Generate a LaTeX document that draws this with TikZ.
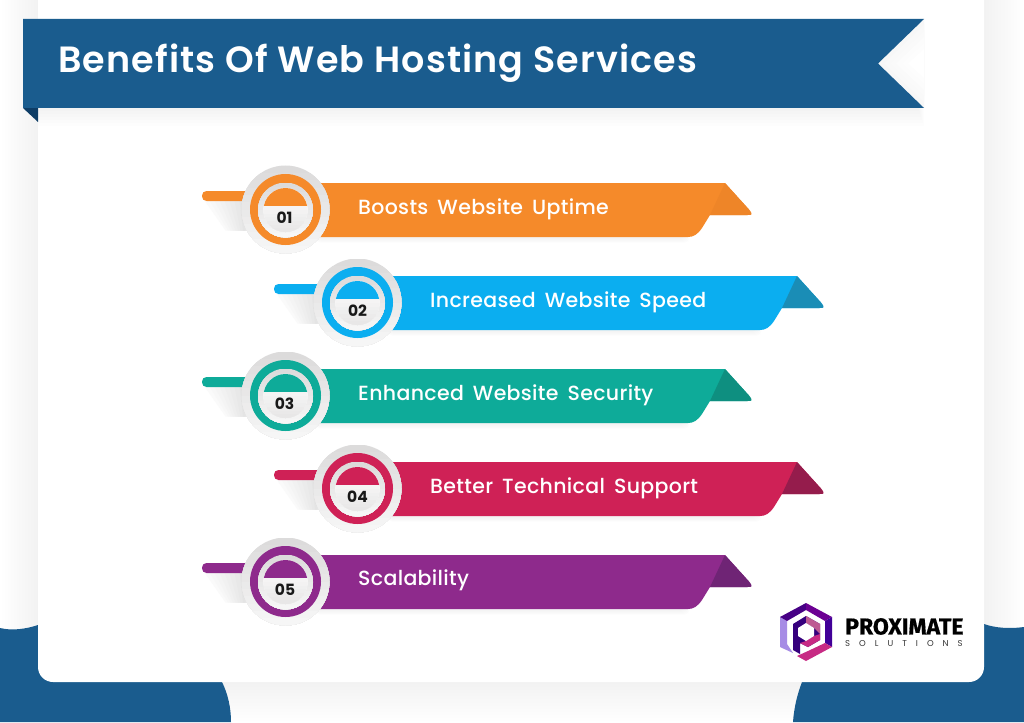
\documentclass[tikz,border=0pt]{standalone}
\usepackage{fontspec}
\setmainfont{Poppins}
\newfontfamily\titlefont[LetterSpace=3.1]{Poppins SemiBold}
\newfontfamily\labelfont[LetterSpace=1.6,WordSpace=1.6]{Poppins Medium}
\newfontfamily\numfont{Poppins}
\newfontfamily\logofont[FakeBold=0.6]{Fira Sans}
\newfontfamily\logosub[LetterSpace=106]{Poppins}
\definecolor{bannerblue}{HTML}{1A5C8E}
\definecolor{bannerdark}{HTML}{0E3D66}
\definecolor{pagegray}{HTML}{F2F2F2}
\definecolor{rimgray}{HTML}{DCDBDB}
\definecolor{rimlight}{HTML}{F6F6F6}
\definecolor{discbottom}{HTML}{E8E7E7}
\definecolor{c1}{HTML}{F58A2A}\definecolor{f1}{HTML}{EE8528}
\definecolor{c2}{HTML}{0BAEF0}\definecolor{f2}{HTML}{1A8DB6}
\definecolor{c3}{HTML}{0EAB99}\definecolor{f3}{HTML}{0E8F80}
\definecolor{c4}{HTML}{CF2156}\definecolor{f4}{HTML}{951C4C}
\definecolor{c5}{HTML}{8E2A8C}\definecolor{f5}{HTML}{6F2475}
\tikzset{
  barlabel/.style={anchor=west,text=white,font=\labelfont\fontsize{20.5}{24}\selectfont,inner sep=0pt},
  numlabel/.style={text=black!90,font=\numfont\bfseries\fontsize{15.5}{18}\selectfont,inner sep=0pt},
  pics/benefit/.style 2 args={code={
    % shadow under the tail: overlapping flat polygons, lighter to darker
    \foreach \i in {0,...,7}{
      \pgfmathsetmacro{\p}{2+\i*1.2}
      \fill[black!\p] ({-81+\i*5},-9) -- (-40,-9) -- (-40,21) -- ({-60+\i*2.5},21) -- cycle;
    }
    % tail
    \fill[#1,rounded corners=4.5] (-83.5,-18.5) rectangle (-20,-8.5);
    % bar shadow: outermost and lightest first
    \foreach \i in {0,...,4}{
      \pgfmathsetmacro{\p}{1+\i*0.9}
      \fill[black!\p,rounded corners=5] (30,{33-\i}) rectangle ({404-\i},20);
    }
    % bar
    \fill[#1] (30,-26.5) -- (439.5,-26.5) -- (463,-0.5) .. controls (468,5.5) and (466,5.5) .. (462,5.5)
      -- (424.5,5.5) -- (416.5,18.5) .. controls (412,25) and (408,27.5) .. (402.5,27.5) -- (30,27.5) -- cycle;
    % fold
    \fill[#2] (439.5,-26.5) -- (463,-0.5) .. controls (468,5.5) and (466,5.5) .. (462,5.5) -- (424.5,5.5) -- cycle;
  }},
}
% linear top-to-bottom disc made of overlapping flat bands
\newcommand{\GradDisc}[4]{% y-centre, radius, from, to
  \begin{scope}
    \clip (0,#1) circle[radius=#2];
    \foreach \i in {0,...,11}{
      \pgfmathsetmacro{\p}{\i*100/11}
      \fill[#4!\p!#3] ({-#2-1},{#1-#2+\i*#2/6}) rectangle ({#2+1},{#1+#2+1});
    }
  \end{scope}
}
\newcommand{\DiscOf}[3]{% x y colour
  \begin{scope}[shift={(#1,#2)}]
    \GradDisc{0}{44}{rimgray}{rimlight}
    \fill[#3] (0,0) circle[radius=35.5];
    \GradDisc{0.5}{27.5}{rimgray}{rimlight}
    \GradDisc{0.5}{22}{white}{discbottom}
    \begin{scope}
      \clip (-30,-30) rectangle (30,-4.5);
      \fill[#3] (0,0.5) circle[radius=22];
    \end{scope}
  \end{scope}
}
\begin{document}
\begin{tikzpicture}[x=1pt,y=-1pt]
\useasboundingbox (0,0) rectangle (1024,722);
\fill[white] (0,0) rectangle (1024,722);
% page side strips
\fill[left color=white,right color=pagegray] (0,0) rectangle (38,640);
\fill[left color=pagegray,right color=white] (984,0) rectangle (1024,640);
\fill[top color=pagegray,bottom color=white] (0,682) rectangle (1024,722);
% blue corners
\fill[bannerblue] (0,628) .. controls (12,631) and (26,629) .. (38,625) -- (60,682) -- (222,682)
  .. controls (228,694) and (231,708) .. (231,722) -- (0,722) -- cycle;
\fill[bannerblue] (960,682) -- (984,624) .. controls (995,628) and (1010,629) .. (1024,627)
  -- (1024,722) -- (793,722) .. controls (794,708) and (797,695) .. (802,682) -- cycle;
% card
\fill[white] (38,-20) [rounded corners=15] -- (38,682) -- (984,682) [sharp corners] -- (984,-20) -- cycle;
% banner shadows
\foreach \i in {0,...,6}{
  \pgfmathsetmacro{\p}{0.6+\i*0.8}
  \fill[black!\p] (38,{126-\i*3}) rectangle ({924-\i},106);
}
\foreach \i in {0,...,5}{
  \pgfmathsetmacro{\p}{3-\i*0.6}
  \fill[black!\p] ({878+\i*6},63.5) -- (924,{19+\i*6}) -- (924,{108-\i*6}) -- cycle;
}
% banner
\fill[bannerdark] (23,100) -- (38,108) -- (38,122) -- (23,108) -- cycle;
\fill[bannerblue] (23,19) -- (924,19) -- (878,63.5) -- (924,108) -- (23,108) -- cycle;
\node[anchor=west,text=white,inner sep=0pt,font=\titlefont\fontsize{36.5}{42}\selectfont] (title) at (58,63) {Benefits Of Web Hosting Services};
% rows
\pic (r1) at (285.5,209.5) {benefit={c1}{f1}};
\DiscOf{285.5}{209.5}{c1}
\node[barlabel] (l1) at (358,209) {Boosts Website Uptime};
\node[numlabel] (n1) at (284.5,218) {01};
\pic (r2) at (357.5,302.5) {benefit={c2}{f2}};
\DiscOf{357.5}{302.5}{c2}
\node[barlabel] (l2) at (430,302) {Increased Website Speed};
\node[numlabel] (n2) at (357.5,311) {02};
\pic (r3) at (285.5,395.5) {benefit={c3}{f3}};
\DiscOf{285.5}{395.5}{c3}
\node[barlabel] (l3) at (358,395) {Enhanced Website Security};
\node[numlabel] (n3) at (284.5,404) {03};
\pic (r4) at (357.5,488.5) {benefit={c4}{f4}};
\DiscOf{357.5}{488.5}{c4}
\node[barlabel] (l4) at (430,488) {Better Technical Support};
\node[numlabel] (n4) at (357.5,497) {04};
\pic (r5) at (285.5,581.5) {benefit={c5}{f5}};
\DiscOf{285.5}{581.5}{c5}
\node[barlabel] (l5) at (358,580) {Scalability};
\node[numlabel] (n5) at (285,590) {05};
% logo
\begin{scope}[shift={(806,632)}]
  % outer ring
  \fill[violet!45!blue!45!white] (-26,-15) -- (-19,-11) -- (-19,12) -- (-13,21) -- (-26,15) -- cycle;
  \fill[violet!70!blue!80!black] (-26,-15) -- (0,-29) -- (0,-22) -- (-19,-11) -- cycle;
  \fill[violet!85!blue] (0,-29) -- (26,-15) -- (19,-11) -- (0,-22) -- cycle;
  \fill[violet!60!blue!85!black] (26,-15) -- (26,15) -- (19,11) -- (19,-11) -- cycle;
  \fill[magenta!60!violet] (26,15) -- (0,29) -- (-9,24) -- (2,19) -- (19,11) -- cycle;
  % inner ring with the stem of the P
  \fill[violet!60!blue!70!black] (0,-16) -- (14,-8) -- (14,8) -- (2,15) -- (-6,11) -- (-6,22)
    -- (-13,18) -- (-13,-8) -- cycle;
  \fill[magenta!60!violet] (14,2) -- (14,8) -- (2,15) -- (-6,11) -- (0,9) -- (8,4) -- cycle;
  \fill[magenta!35!violet!80!white] (0,-16) -- (14,-8) -- (14,2) -- (8,-4) -- (0,-9) -- cycle;
  \fill[white] (0,-9) -- (8,-4) -- (8,4) -- (0,9) -- (-8,4) -- (-8,-4) -- cycle;
\end{scope}
\node[anchor=west,inner sep=0pt,text=black,font=\logofont\bfseries\fontsize{23}{26}\selectfont] (logo) at (845,626.5) {PROXIMATE};
\node[anchor=west,inner sep=0pt,text=black!80,font=\logosub\fontsize{8.5}{10}\selectfont] (logosub) at (845,643.5) {SOLUTIONS};
\end{tikzpicture}
\end{document}
